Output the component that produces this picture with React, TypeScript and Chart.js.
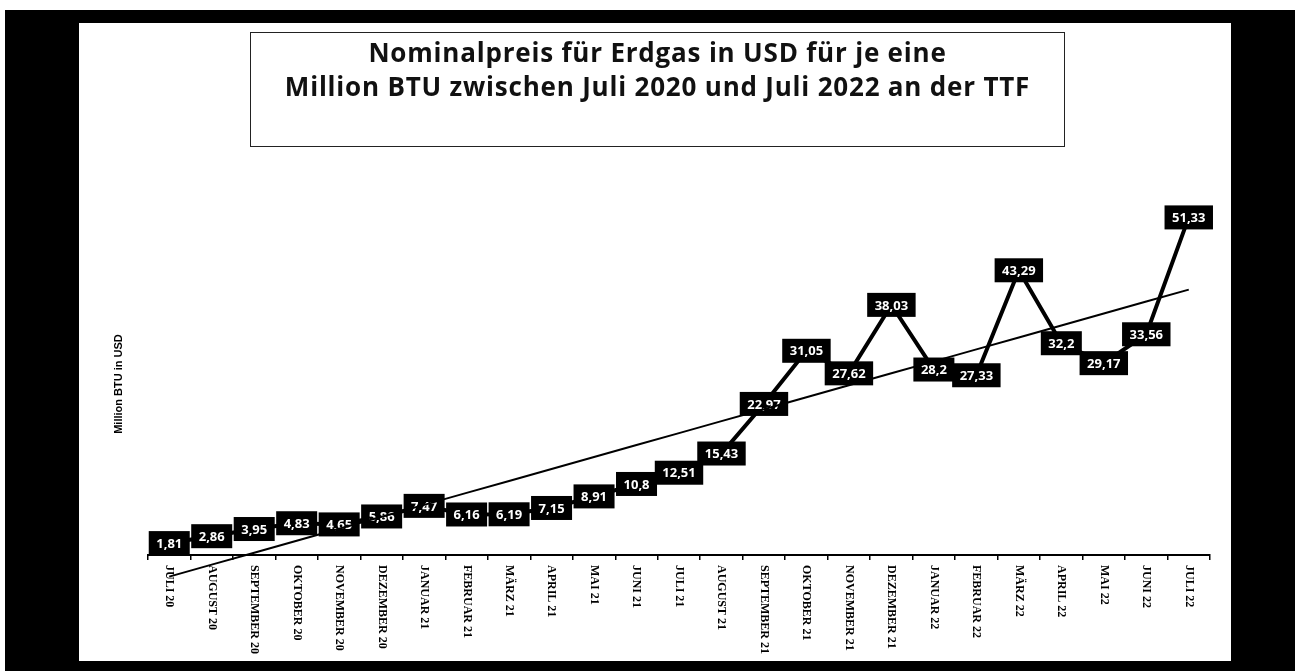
import React, { useEffect, useRef } from "react";
import { Chart, registerables } from "chart.js";

Chart.register(...registerables);

const categories = [
  "JULI 20", "AUGUST 20", "SEPTEMBER 20", "OKTOBER 20", "NOVEMBER 20", "DEZEMBER 20",
  "JANUAR 21", "FEBRUAR 21", "MÄRZ 21", "APRIL 21", "MAI 21", "JUNI 21", "JULI 21",
  "AUGUST 21", "SEPTEMBER 21", "OKTOBER 21", "NOVEMBER 21", "DEZEMBER 21",
  "JANUAR 22", "FEBRUAR 22", "MÄRZ 22", "APRIL 22", "MAI 22", "JUNI 22", "JULI 22",
];

const prices = [
  1.81, 2.86, 3.95, 4.83, 4.65, 5.86, 7.47, 6.16, 6.19, 7.15, 8.91, 10.8, 12.51,
  15.43, 22.97, 31.05, 27.62, 38.03, 28.2, 27.33, 43.29, 32.2, 29.17, 33.56, 51.33,
];

const titleLines = [
  "Nominalpreis für Erdgas in USD für je eine",
  "Million BTU zwischen Juli 2020 und Juli 2022 an der TTF",
];
const yAxisTitle = "Million BTU in USD";

// linear trend (least squares) derived from the series
function linearTrend(values: number[]): number[] {
  const n = values.length;
  const mx = (n - 1) / 2;
  const my = values.reduce((a, b) => a + b, 0) / n;
  let sxy = 0;
  let sxx = 0;
  values.forEach((v, i) => {
    sxy += (i - mx) * (v - my);
    sxx += (i - mx) * (i - mx);
  });
  const slope = sxy / sxx;
  const icpt = my - slope * mx;
  return values.map((_, i) => icpt + slope * i);
}

const labelPlugin = {
  id: "boxLabels",
  afterDatasetDraw(chart: any, args: any) {
    if (args.index !== 0) return;
    const ctx = chart.ctx;
    const meta = chart.getDatasetMeta(0);
    ctx.save();
    ctx.font = "bold 13px 'Open Sans', Lato, sans-serif";
    ctx.textAlign = "center";
    ctx.textBaseline = "middle";
    meta.data.forEach((pt: any, i: number) => {
      const txt = String(prices[i]).replace(".", ",");
      const w = ctx.measureText(txt).width + 15;
      const h = 24;
      ctx.fillStyle = "#000";
      ctx.fillRect(pt.x - w / 2, pt.y - h / 2, w, h);
      ctx.fillStyle = "#fff";
      ctx.fillText(txt, pt.x, pt.y + 1);
    });
    ctx.restore();
  },
};

const xLabelPlugin = {
  id: "xLabels",
  afterDraw(chart: any) {
    const ctx = chart.ctx;
    const xs = chart.scales.x;
    ctx.save();
    ctx.font = "bold 12px 'Liberation Serif', serif";
    ctx.fillStyle = "#000";
    ctx.textAlign = "left";
    ctx.textBaseline = "middle";
    categories.forEach((c, i) => {
      const x = xs.getPixelForValue(i);
      ctx.save();
      ctx.translate(x, xs.top + 10);
      ctx.rotate(Math.PI / 2);
      ctx.fillText(c, 0, 0);
      ctx.restore();
    });
    ctx.restore();
  },
};

export default function App() {
  const ref = useRef<HTMLCanvasElement | null>(null);

  useEffect(() => {
    if (!ref.current) return;
    const chart = new Chart(ref.current, {
      type: "line",
      data: {
        labels: categories,
        datasets: [
          {
            label: "Preis",
            data: prices,
            borderColor: "#000",
            borderWidth: 4,
            pointRadius: 0,
            tension: 0,
            clip: false as any,
            order: 2,
          },
          {
            label: "Trend",
            data: linearTrend(prices),
            borderColor: "#000",
            borderWidth: 2,
            pointRadius: 0,
            tension: 0,
            clip: false as any,
            order: 1,
          },
        ],
      },
      options: {
        animation: false,
        responsive: false,
        maintainAspectRatio: false,
        layout: { padding: { left: 112, right: 85, top: 213, bottom: 16 } },
        plugins: {
          legend: { display: false },
          tooltip: { enabled: false },
          title: { display: false },
        },
        scales: {
          x: {
            type: "category",
            offset: true,
            ticks: { display: false },
            grid: {
              display: true,
              offset: true,
              drawOnChartArea: false,
              drawTicks: true,
              tickLength: 5,
              color: "#000",
              lineWidth: 1.5,
            },
            border: { display: true, color: "#000", width: 2 },
            afterFit: (s: any) => {
              s.height = 100;
            },
          },
          y: {
            min: 0,
            max: 52,
            ticks: { display: false },
            grid: { display: false },
            border: { display: false },
            title: {
              display: true,
              text: yAxisTitle,
              color: "#000",
              font: { family: "'Liberation Sans', Arial, sans-serif", size: 11, weight: "bold" },
              padding: 0,
            },
            afterFit: (s: any) => {
              s.width = 36;
            },
          },
        },
      },
      plugins: [labelPlugin, xLabelPlugin],
    });
    return () => chart.destroy();
  }, []);

  const black = "#000";
  return (
    <div
      style={{
        position: "fixed",
        left: 0,
        top: 0,
        width: 1295,
        height: 671,
        background: "#fff",
        overflow: "hidden",
      }}
    >
      <canvas
        ref={ref}
        width={1295}
        height={671}
        style={{ position: "absolute", left: 0, top: 0, width: 1295, height: 671 }}
      />
      <div
        style={{
          position: "absolute",
          left: 250,
          top: 32,
          width: 813,
          height: 111,
          border: "1.5px solid #222",
          fontFamily: "'Open Sans', Lato, sans-serif",
          fontWeight: 700,
          fontSize: 26,
          letterSpacing: "0.8px",
          lineHeight: "34px",
          textAlign: "center",
          paddingTop: 2,
          boxSizing: "content-box",
          color: "#111",
        }}
      >
        <div>{titleLines[0]}</div>
        <div>{titleLines[1]}</div>
      </div>
      {/* scan frame */}
      <div style={{ position: "absolute", left: 5, top: 10, width: 1290, height: 13, background: black }} />
      <div style={{ position: "absolute", left: 5, top: 10, width: 74, height: 661, background: black }} />
      <div style={{ position: "absolute", left: 1231, top: 10, width: 64, height: 661, background: black }} />
      <div style={{ position: "absolute", left: 5, top: 661, width: 1290, height: 10, background: black }} />
    </div>
  );
}
